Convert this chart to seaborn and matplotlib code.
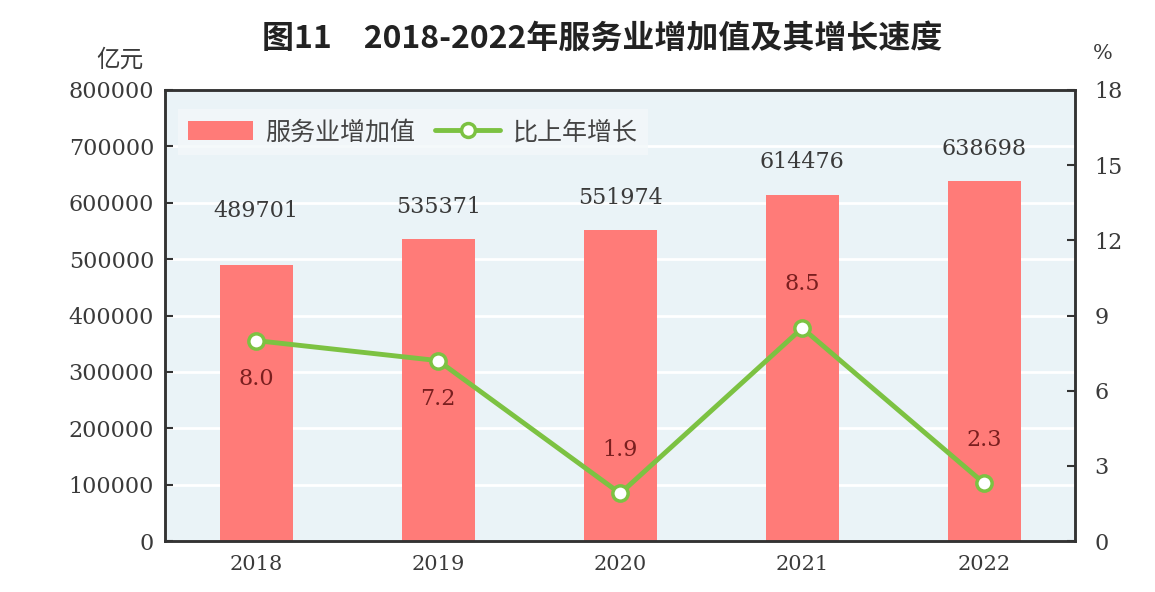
import numpy as np
import pandas as pd
import matplotlib
matplotlib.use("Agg")
import matplotlib.pyplot as plt
import seaborn as sns
from matplotlib.lines import Line2D
from matplotlib.patches import Patch

# data
years = ["2018", "2019", "2020", "2021", "2022"]
value_added = [489701, 535371, 551974, 614476, 638698]
growth = [8.0, 7.2, 1.9, 8.5, 2.3]
growth_below = [True, True, False, False, False]

# label placement (style, not data)
bar_label_gap = [95000, 57000, 57000, 57000, 57000]

bar_color = "#ff7b78"
line_color = "#7cc242"
bg_color = "#eaf3f7"
text_color = "#3a3a3a"

sns.set_theme(style="white")
plt.rcParams["font.family"] = ["DejaVu Serif", "Noto Sans CJK SC"]
cjk = ["Noto Sans CJK SC", "DejaVu Sans"]

df = pd.DataFrame({"year": years, "value": value_added, "growth": growth})

fig = plt.figure(figsize=(11.55, 5.92), dpi=100)
ax = fig.add_axes([0.143, 0.086, 0.788, 0.762])
ax.set_facecolor(bg_color)

sns.barplot(data=df, x="year", y="value", color=bar_color, width=0.4,
            saturation=1, ax=ax, zorder=2, edgecolor="none", linewidth=0)
ax.set_ylim(0, 800000)
ax.set_xlim(-0.5, 4.5)
ax.set_yticks(np.arange(0, 800001, 100000))
ax.yaxis.grid(True, color="white", lw=2)
ax.set_axisbelow(True)
ax.set_xlabel("")
ax.set_ylabel("")
ax.set_xticks(np.arange(-0.5, 4.6, 1), minor=False)
ax.set_xticklabels([])
ax.set_xticks(range(5), minor=True)
ax.set_xticklabels(years, minor=True)
ax.tick_params(axis="x", which="major", direction="in", length=6, width=1.5, color="#333333")
ax.tick_params(axis="x", which="minor", length=0, pad=10, labelsize=15, labelcolor=text_color)
ax.tick_params(axis="y", direction="in", length=6, width=1.5, color="#333333",
               labelsize=16, labelcolor=text_color, pad=8)
for s in ax.spines.values():
    s.set_color("#333333")
    s.set_linewidth(1.8)

for i, v in enumerate(value_added):
    ax.text(i, v + bar_label_gap[i], str(v), ha="center", va="center",
            fontsize=16, color=text_color)

ax2 = ax.twinx()
x = np.arange(len(years))
sns.lineplot(x=x, y=growth, ax=ax2, color=line_color, lw=3.5, marker="o",
             markersize=11, markerfacecolor="white", markeredgecolor=line_color,
             markeredgewidth=2.5, zorder=5)
ax2.set_ylim(0, 18)
ax2.set_yticks(np.arange(0, 19, 3))
ax2.set_xlim(-0.5, 4.5)
ax2.tick_params(axis="y", direction="in", length=6, width=1.5, color="#333333",
                labelsize=16, labelcolor=text_color, pad=14)
for s in ax2.spines.values():
    s.set_color("#333333")
    s.set_linewidth(1.8)

for i, g in enumerate(growth):
    if growth_below[i]:
        ax2.text(i, g - 1.1, f"{g:.1f}", ha="center", va="top", fontsize=16, color="#7a1f1f")
    else:
        ax2.text(i, g + 1.3, f"{g:.1f}", ha="center", va="bottom", fontsize=16, color="#7a1f1f")

handles = [Patch(facecolor=bar_color, edgecolor="none"),
           Line2D([], [], color=line_color, lw=3.5, marker="o", markersize=10,
                  markerfacecolor="white", markeredgecolor=line_color, markeredgewidth=2.5)]
leg = ax2.legend(handles, ["服务业增加值", "比上年增长"], loc="upper left",
                 bbox_to_anchor=(0.0, 0.985), ncol=2, frameon=True, fancybox=False,
                 prop={"family": cjk, "size": 18}, handlelength=2.6, handleheight=0.8,
                 handletextpad=0.5, columnspacing=0.8, borderpad=0.4)
leg.get_frame().set_facecolor("#f3f8fa")
leg.get_frame().set_edgecolor("none")
for t in leg.get_texts():
    t.set_color("#444444")

fig.text(0.521, 0.935, "图11　2018-2022年服务业增加值及其增长速度", ha="center", va="center",
         fontsize=23, fontweight="bold", family=cjk, color="#222222")
fig.text(0.104, 0.898, "亿元", ha="center", va="center", fontsize=17, family=cjk, color=text_color)
fig.text(0.955, 0.91, "%", ha="center", va="center", fontsize=15, color=text_color)

fig.savefig("out.png", dpi=100, facecolor="white")
